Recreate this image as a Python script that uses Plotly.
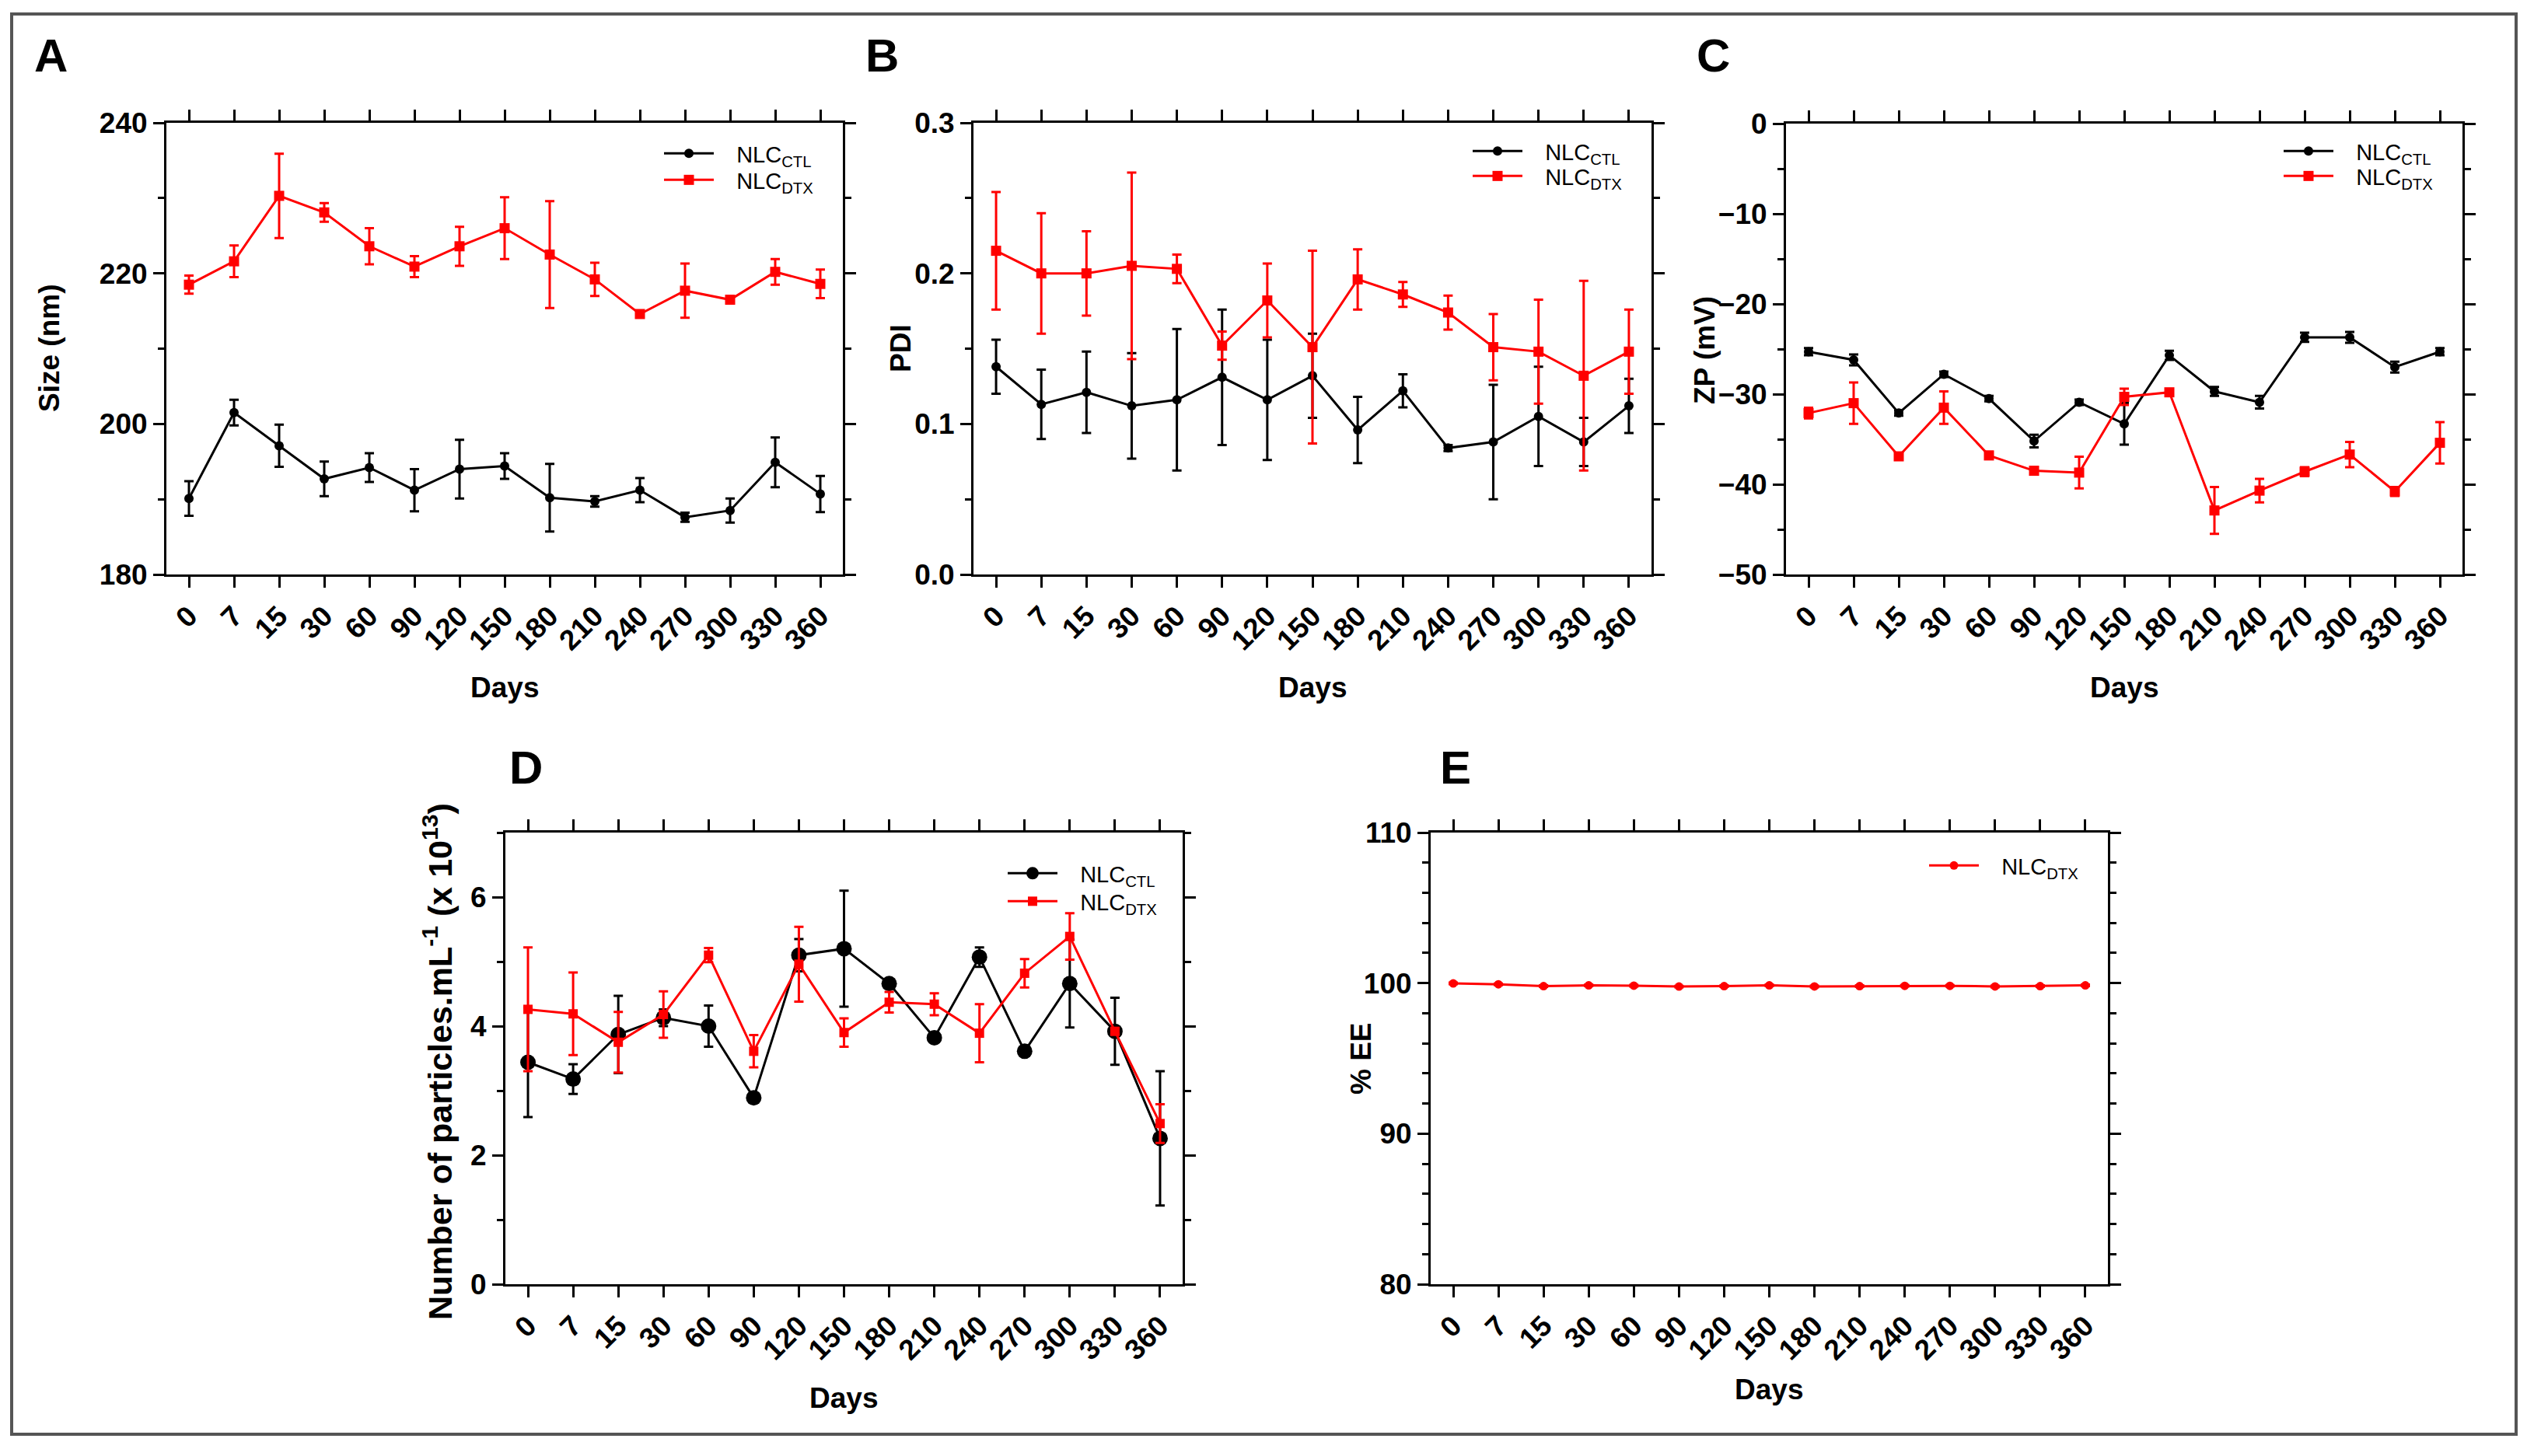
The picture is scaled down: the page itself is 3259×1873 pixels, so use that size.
import plotly.graph_objects as go

W, H = 3259, 1873
OFF = 8  # page body margin compensation (px)

days = ["0", "7", "15", "30", "60", "90", "120", "150", "180", "210", "240", "270", "300", "330", "360"]

# Panel A - Size (nm)
size_ctl = [190.1, 201.5, 197.1, 192.7, 194.2, 191.2, 194.0, 194.4, 190.2, 189.7, 191.2, 187.6, 188.5, 194.9, 190.7]
size_ctl_err = [2.3, 1.7, 2.8, 2.3, 1.9, 2.8, 3.9, 1.7, 4.5, 0.7, 1.6, 0.6, 1.6, 3.3, 2.4]
size_dtx = [218.5, 221.6, 230.3, 228.1, 223.6, 220.9, 223.6, 226.0, 222.5, 219.2, 214.6, 217.7, 216.5, 220.2, 218.6]
size_dtx_err = [1.2, 2.1, 5.6, 1.25, 2.4, 1.4, 2.6, 4.1, 7.1, 2.2, 0.4, 3.6, 0.4, 1.7, 1.9]

# Panel B - PDI
pdi_ctl = [0.138, 0.113, 0.121, 0.112, 0.116, 0.131, 0.116, 0.132, 0.096, 0.122, 0.084, 0.088, 0.105, 0.088, 0.112]
pdi_ctl_err = [0.018, 0.023, 0.027, 0.035, 0.047, 0.045, 0.040, 0.028, 0.022, 0.011, 0.002, 0.038, 0.033, 0.016, 0.018]
pdi_dtx = [0.215, 0.200, 0.200, 0.205, 0.203, 0.152, 0.182, 0.151, 0.196, 0.186, 0.174, 0.151, 0.148, 0.132, 0.148]
pdi_dtx_err = [0.039, 0.040, 0.028, 0.062, 0.0095, 0.0093, 0.0245, 0.064, 0.020, 0.0083, 0.0113, 0.022, 0.0345, 0.063, 0.028]

# Panel C - ZP (mV)
zp_ctl = [-25.3, -26.2, -32.1, -27.8, -30.5, -35.2, -30.9, -33.3, -25.7, -29.7, -30.9, -23.7, -23.7, -27.0, -25.3]
zp_ctl_err = [0.4, 0.6, 0.3, 0.3, 0.3, 0.7, 0.3, 2.3, 0.5, 0.5, 0.7, 0.5, 0.6, 0.6, 0.4]
zp_dtx = [-32.1, -31.0, -36.9, -31.5, -36.8, -38.5, -38.7, -30.3, -29.8, -42.9, -40.7, -38.6, -36.7, -40.8, -35.4]
zp_dtx_err = [0.6, 2.3, 0.3, 1.8, 0.4, 0.4, 1.75, 0.9, 0.2, 2.6, 1.3, 0.5, 1.4, 0.5, 2.3]

# Panel D - Number of particles (x 10^13 /mL)
np_ctl = [3.44, 3.18, 3.87, 4.13, 4.00, 2.89, 5.10, 5.20, 4.66, 3.82, 5.07, 3.61, 4.66, 3.92, 2.26]
np_ctl_err = [0.85, 0.23, 0.60, 0.13, 0.32, 0.05, 0.25, 0.90, 0.05, 0.05, 0.15, 0.07, 0.68, 0.52, 1.04]
np_dtx = [4.26, 4.19, 3.75, 4.18, 5.10, 3.61, 4.96, 3.90, 4.37, 4.34, 3.89, 4.82, 5.39, 3.92, 2.49]
np_dtx_err = [0.96, 0.64, 0.47, 0.36, 0.11, 0.25, 0.58, 0.22, 0.16, 0.17, 0.45, 0.22, 0.36, 0.05, 0.30]

# Panel E - % EE
ee_dtx = [99.98, 99.92, 99.80, 99.85, 99.83, 99.77, 99.80, 99.85, 99.78, 99.80, 99.82, 99.82, 99.78, 99.80, 99.85]
ee_dtx_err = [0.05, 0.05, 0.05, 0.05, 0.05, 0.05, 0.05, 0.05, 0.05, 0.05, 0.05, 0.05, 0.05, 0.05, 0.05]

RED = "#FF0000"
BLACK = "#000000"
FONT = "Liberation Sans"


def PX(x):
    return (x - OFF) / W


def PY(y):
    return 1 - (y - OFF) / H


# plot areas in pixels: (left, right, top, bottom)
boxes = {
    1: (214, 1084, 158, 739),
    2: (1252, 2124, 158, 739),
    3: (2297, 3167, 159, 739),
    4: (650, 1521, 1071, 1652),
    5: (1840, 2711, 1071, 1652),
}

fig = go.Figure()


def sfx(i):
    return "" if i == 1 else str(i)


# legend rows: (line start x px, row center y px) -- one legend per entry
legrows = []


def add(i, y, err, name, color, symbol, msize, lx, ly):
    legrows.append((lx, ly))
    k = len(legrows)
    fig.add_trace(go.Scatter(
        x=days, y=y, name=name, mode="lines+markers",
        line=dict(color=color, width=3),
        marker=dict(symbol=symbol, size=msize, color=color),
        error_y=dict(type="data", array=err, visible=True, color=color, thickness=3, width=6),
        xaxis="x" + sfx(i), yaxis="y" + sfx(i), legend="legend" + sfx(k),
    ))


SP = "\u00a0\u00a0\u00a0"
CTL = SP + "NLC<sub>CTL</sub>"
DTX = SP + "NLC<sub>DTX</sub>"

add(1, size_ctl, size_ctl_err, CTL, BLACK, "circle", 12, 857, 199)
add(1, size_dtx, size_dtx_err, DTX, RED, "square", 13, 857, 233)
add(2, pdi_ctl, pdi_ctl_err, CTL, BLACK, "circle", 12, 1897, 196)
add(2, pdi_dtx, pdi_dtx_err, DTX, RED, "square", 13, 1897, 228)
add(3, zp_ctl, zp_ctl_err, CTL, BLACK, "circle", 12, 2940, 196)
add(3, zp_dtx, zp_dtx_err, DTX, RED, "square", 13, 2940, 228)
add(4, np_ctl, np_ctl_err, CTL, BLACK, "circle", 20, 1299, 1125)
add(4, np_dtx, np_dtx_err, DTX, RED, "square", 12, 1299, 1161)
add(5, ee_dtx, ee_dtx_err, DTX, RED, "circle", 11, 2484, 1115)

tickfont = dict(family=FONT, size=37, color="black", weight="bold")
common = dict(showline=True, linewidth=3, linecolor="black", mirror="ticks",
              ticks="outside", ticklen=14, tickwidth=3, tickcolor="black",
              showgrid=False, zeroline=False, tickfont=tickfont, automargin=False)

yspecs = {
    1: dict(range=[180, 240], dtick=20, tick0=180, minor_dtick=10),
    2: dict(range=[0, 0.3], dtick=0.1, tick0=0, minor_dtick=0.05, tickformat=".1f"),
    3: dict(range=[-50, 0], dtick=10, tick0=0, minor_dtick=5,
            zeroline=True, zerolinewidth=6, zerolinecolor="black"),
    4: dict(range=[0, 7], dtick=2, tick0=0, minor_dtick=1),
    5: dict(range=[80, 110], dtick=10, tick0=80, minor_dtick=2),
}

layout = dict(width=W, height=H, margin=dict(l=0, r=0, t=0, b=0, pad=0, autoexpand=False),
              paper_bgcolor="white", plot_bgcolor="white", showlegend=True)

for i, (l, r, t, b) in boxes.items():
    xd = [PX(l), PX(r)]
    yd = [PY(b), PY(t)]
    layout["xaxis" + sfx(i)] = dict(common, domain=xd, anchor="y" + sfx(i), type="category",
                                    categoryorder="array", categoryarray=days,
                                    range=[-0.5, 14.5], tickangle=-45)
    ys = dict(yspecs[i])
    md = ys.pop("minor_dtick")
    ax = dict(common)
    ax.update(ys)
    ax.update(domain=yd, anchor="x" + sfx(i),
              minor=dict(ticks="outside", ticklen=8, tickwidth=3,
                         tickcolor="black", dtick=md, showgrid=False))
    layout["yaxis" + sfx(i)] = ax

for k, (lx, ly) in enumerate(legrows, start=1):
    layout["legend" + sfx(k)] = dict(
        x=PX(lx - 8), y=PY(ly - 27), xanchor="left", yanchor="top",
        bgcolor="rgba(0,0,0,0)", font=dict(family=FONT, size=29, color="black"),
        itemwidth=64, tracegroupgap=0, traceorder="normal")

fig.update_layout(**layout)

ann = []


def txt(x, y, s, size=37, angle=0, bold=True):
    ann.append(dict(x=PX(x), y=PY(y), xref="paper", yref="paper", text=s, showarrow=False,
                    xanchor="center", yanchor="middle", textangle=angle,
                    font=dict(family=FONT, size=size, color="black", weight="bold" if bold else "normal")))


# panel letters
txt(65, 72, "A", 60)
txt(1134, 72, "B", 60)
txt(2203, 72, "C", 60)
txt(676, 988, "D", 60)
txt(1872, 988, "E", 60)
# y titles
txt(64, 448, "Size (nm)", angle=-90)
txt(1159, 448, "PDI", angle=-90)
txt(2192, 451, "ZP (mV)", angle=-90)
txt(563, 1366, "Number of particles.mL<sup>-1</sup> (x 10<sup>13</sup>)", size=43, angle=-90)
txt(1750, 1362, "% EE", angle=-90)
# x titles
txt(649, 884, "Days")
txt(1688, 884, "Days")
txt(2732, 884, "Days")
txt(1085, 1798, "Days")
txt(2275, 1787, "Days")

fig.update_layout(annotations=ann)

fig.add_shape(type="rect", xref="paper", yref="paper",
              x0=PX(15), x1=PX(3236), y0=PY(1845), y1=PY(18),
              line=dict(color="#555555", width=4), fillcolor="rgba(0,0,0,0)", layer="below")

fig.write_html("out.html")
